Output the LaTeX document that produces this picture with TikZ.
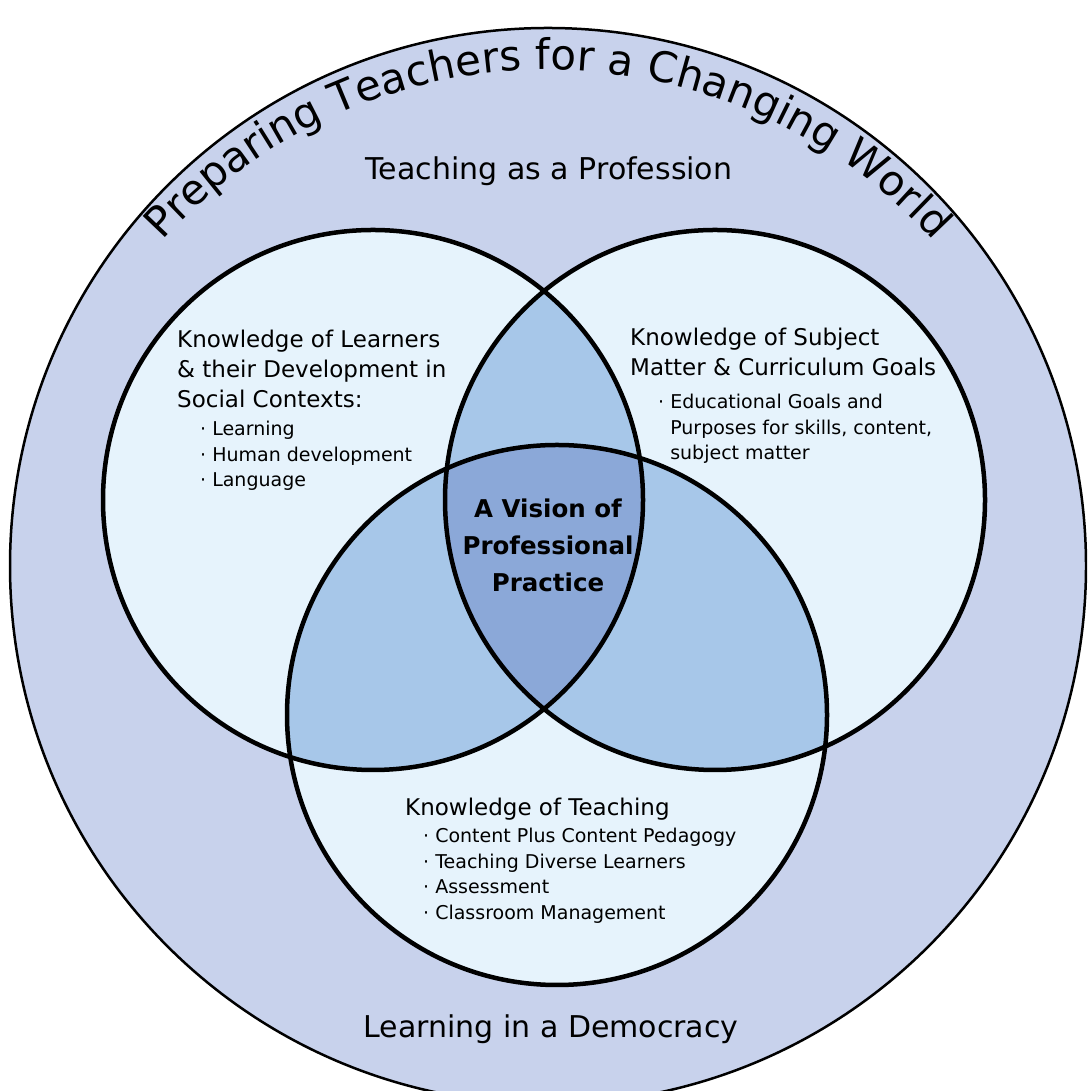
\documentclass[tikz,border=0pt]{standalone}
\usepackage{fontspec}
\setmainfont{DejaVu Sans}
\usetikzlibrary{decorations.text}
\definecolor{outerblue}{RGB}{200,210,236}
\definecolor{paleblue}{RGB}{230,243,252}
\definecolor{midblue}{RGB}{167,199,233}
\definecolor{deepblue}{RGB}{139,168,216}
\tikzset{
  ring/.style={line width=4.5pt},
  head/.style={anchor=north west, align=left, inner sep=0pt, font=\fontsize{23}{30}\selectfont},
  items/.style={anchor=north west, align=left, inner sep=0pt, font=\fontsize{19}{25.5}\selectfont},
}
\begin{document}
\begin{tikzpicture}[x=1pt,y=1pt]
\useasboundingbox (0,0) rectangle (1087,1091);
\fill[white] (0,0) rectangle (1087,1091);
\clip (0,0) rectangle (1087,1091);
\coordinate (world) at (548,525);
\coordinate (learn) at (373,591);
\coordinate (subj) at (715,591);
\coordinate (teach) at (557,376);
\coordinate (arcc) at (548,501);
% outer ring
\path[draw, fill=outerblue, line width=2.5pt] (world) circle[radius=538pt];
\path[decorate, decoration={text along path, text align=center,
  text={|\fontsize{42}{42}\selectfont|Preparing Teachers for a Changing World}}]
  ([shift={(150:520pt)}]arcc) arc[start angle=150, end angle=30, radius=520pt];
% the three circles
\foreach \c in {learn,subj,teach}
  \fill[paleblue] (\c) circle[radius=270pt];
\begin{scope}
  \clip (learn) circle[radius=270pt];
  \fill[midblue] (subj) circle[radius=270pt];
  \fill[midblue] (teach) circle[radius=270pt];
\end{scope}
\begin{scope}
  \clip (subj) circle[radius=270pt];
  \fill[midblue] (teach) circle[radius=270pt];
  \clip (teach) circle[radius=270pt];
  \fill[deepblue] (learn) circle[radius=270pt];
\end{scope}
\foreach \c in {learn,subj,teach}
  \draw[ring] (\c) circle[radius=270pt];
% labels
\node[anchor=base, inner sep=0pt, font=\fontsize{30}{36}\selectfont] (prof) at (549,911) {Teaching as a Profession};
\node[anchor=base, inner sep=0pt, font=\fontsize{30}{36}\selectfont] (demo) at (551,53) {Learning in a Democracy};
\node[head] (learnhd) at (177,761) {Knowledge of Learners\\\& their Development in\\Social Contexts:};
\node[items] (learnls) at (200,670) {· Learning\\· Human development\\· Language};
\node[head] (subjhd) at (630,763) {Knowledge of Subject\\Matter \& Curriculum Goals};
\node[items] (subjls) at (658,697) {· Educational Goals and\\\hphantom{·\ }Purposes for skills, content,\\\hphantom{·\ }subject matter};
\node[head] (teachhd) at (405,293) {Knowledge of Teaching};
\node[items] (teachls) at (423,263) {· Content Plus Content Pedagogy\\· Teaching Diverse Learners\\· Assessment\\· Classroom Management};
\node[anchor=north, align=center, inner sep=0pt, font=\fontsize{24.5}{37}\selectfont\bfseries] (vision) at (548,592) {A Vision of\\Professional\\Practice};
\end{tikzpicture}
\end{document}
